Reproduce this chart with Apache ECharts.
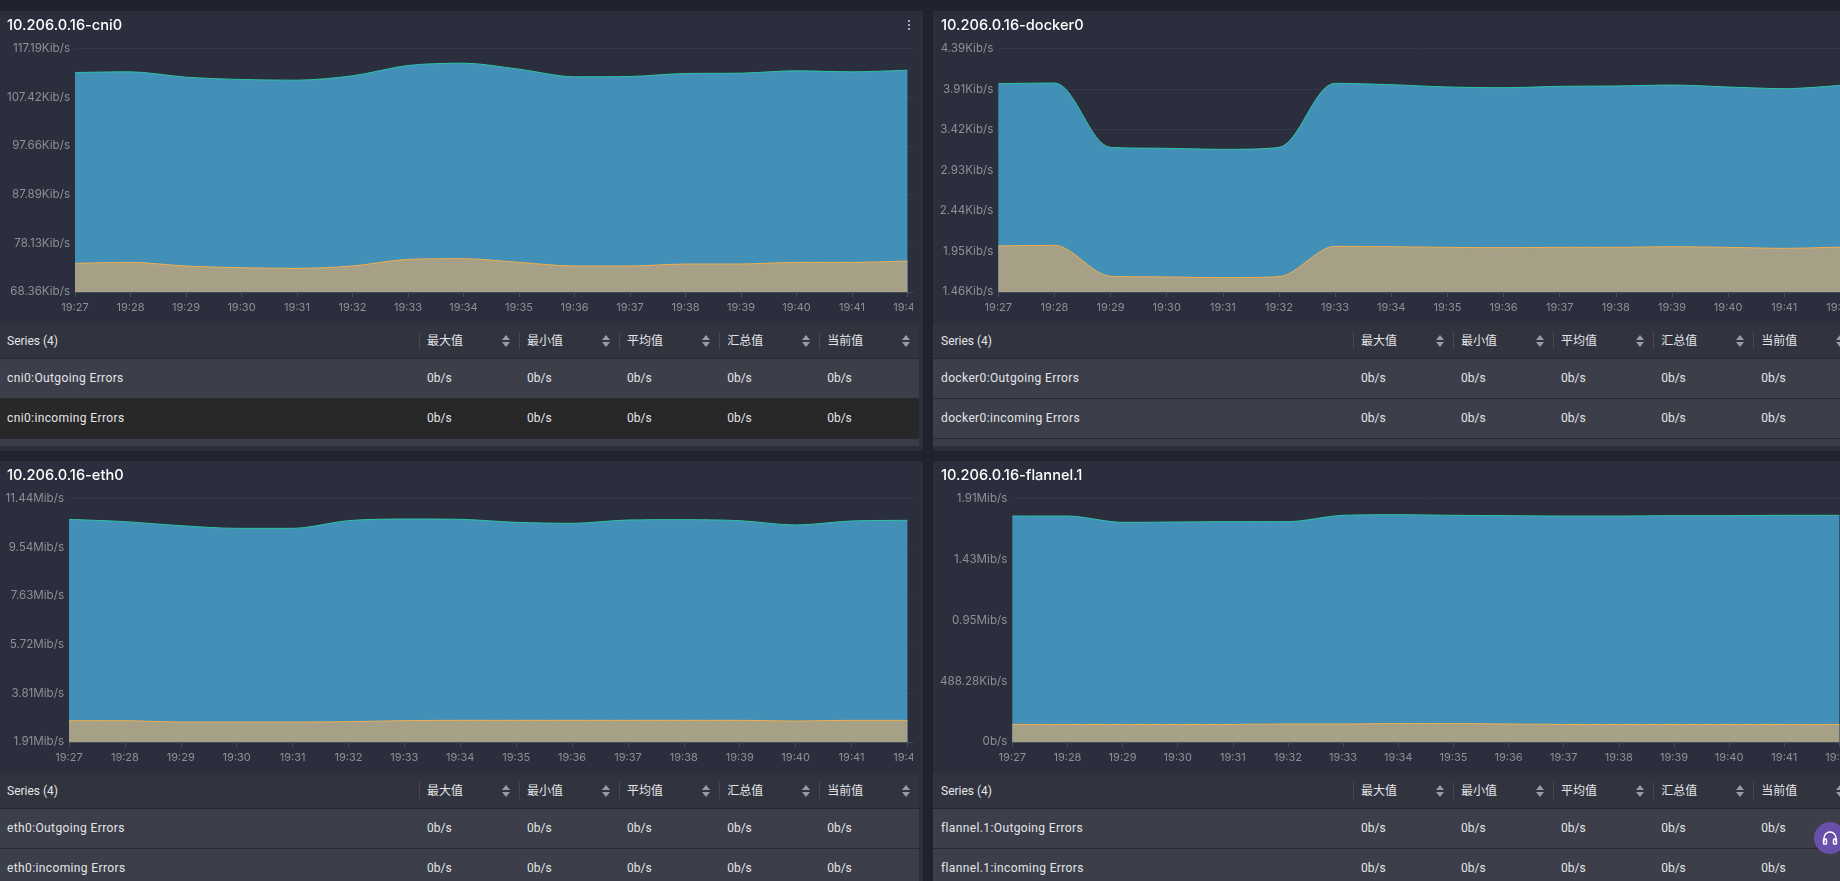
<!DOCTYPE html>
<html><head><meta charset="utf-8">
<script src="https://cdn.jsdelivr.net/npm/echarts@6/dist/echarts.min.js"></script>
<style>
html,body{margin:0;padding:0;width:1840px;height:881px;overflow:hidden;background:#20222e;font-family:Roboto,"Noto Sans CJK SC",sans-serif;}
.panel{position:absolute;width:923px;height:440px;background:#2b2e3d;overflow:hidden}
.chart{position:absolute;left:0;top:0;width:913px;height:311px}
.head,.row{position:absolute;left:0;width:919px;color:#e4e5e8;font-size:12px;box-sizing:border-box}
.head{top:312px;height:36px;background:#31343f;line-height:36px;border-bottom:1px solid #26272c}
.row{height:40px;line-height:39px;background:#3c3f4a;border-bottom:1px solid #2a2b2e}
.row.hover{background:#282828}
.cell{position:absolute;top:0;white-space:nowrap}
.name{letter-spacing:.38px}
.sep{position:absolute;top:9px;height:17px;width:1px;background:#454853}
.sort{position:absolute;top:12px;width:0;height:0}
.sort i{position:absolute;left:-4px;border-left:4px solid transparent;border-right:4px solid transparent}
.sort i.u{top:0;border-bottom:5px solid #9a9ca3}
.sort i.d{top:7px;border-top:5px solid #9a9ca3}
.strip{position:absolute;left:0;top:428px;width:919px;height:7px;background:#3a3d49}
.kebab{position:absolute;left:908px;top:9px;width:2px;height:2px;background:#a8aab0;box-shadow:0 4px 0 #a8aab0,0 8px 0 #a8aab0}
#help{position:absolute;left:1814px;top:822px;width:32px;height:32px;border-radius:50%;background:#6a4fa9}
</style></head><body>
<div id="help"><svg width="32" height="32" viewBox="0 0 32 32" fill="none" stroke="#fff" stroke-width="1.4"><path d="M10 20v-4a6 6 0 0 1 12 0v4"/><rect x="9.5" y="17" width="3" height="5" rx="0.8"/><rect x="19.5" y="17" width="3" height="5" rx="0.8"/></svg></div>
<script>
const minuteLabels = ["19:27","19:28","19:29","19:30","19:31","19:32","19:33","19:34","19:35","19:36","19:37","19:38","19:39","19:40","19:41","19:42"];

const cni0Title = "10.206.0.16-cni0";
const cni0Ticks = ["68.36Kib/s","78.13Kib/s","87.89Kib/s","97.66Kib/s","107.42Kib/s","117.19Kib/s"];
const cni0Out = [115075,115212,114118,113639,113502,114391,116512,116990,115759,114186,114255,114870,114938,115417,115212,115554];
const cni0In = [75882,76087,75335,74993,74856,75335,76703,76840,76087,75335,75335,75745,75745,76087,76087,76361];

const dockerTitle = "10.206.0.16-docker0";
const dockerTicks = ["1.46Kib/s","1.95Kib/s","2.44Kib/s","2.93Kib/s","3.42Kib/s","3.91Kib/s","4.39Kib/s"];
const dockerOut = [4067,4075,3282,3270,3258,3282,4071,4054,4026,4017,4034,4038,4050,4026,4005,4046];
const dockerIn = [2067,2075,1693,1685,1677,1689,2063,2058,2050,2046,2050,2050,2058,2050,2038,2054];

const eth0Title = "10.206.0.16-eth0";
const eth0Ticks = ["1.91Mib/s","3.81Mib/s","5.72Mib/s","7.63Mib/s","9.54Mib/s","11.44Mib/s"];
const eth0Out = [11144000,11049000,10884000,10775000,10775000,11090000,11158000,11144000,11021000,10980000,11117000,11131000,11090000,10912000,11076000,11103000];
const eth0In = [2876000,2876000,2821000,2821000,2821000,2835000,2876000,2890000,2890000,2890000,2890000,2890000,2890000,2862000,2890000,2890000];

const flannelTitle = "10.206.0.16-flannel.1";
const flannelTicks = ["0b/s","488.28Kib/s","0.95Mib/s","1.43Mib/s","1.91Mib/s"];
const flannelOut = [1856000,1856000,1804000,1807000,1810000,1810000,1862000,1867000,1862000,1859000,1856000,1856000,1859000,1859000,1862000,1862000];
const flannelIn = [145000,145000,145000,145000,145000,148000,148000,151000,151000,148000,145000,145000,145000,145000,145000,145000];

const headers = ["最大值","最小值","平均值","汇总值","当前值"];
const cellValue = "0b/s";

const panels = [
 {title:cni0Title, name:"cni0", ticks:cni0Ticks, out:cni0Out, inc:cni0In, min:70000, step:10000, x:0, y:11, dx:0, left:75, extra:15.1, hover:true},
 {title:dockerTitle, name:"docker0", ticks:dockerTicks, out:dockerOut, inc:dockerIn, min:1500, step:500, x:933, y:11, dx:1, left:65.3, extra:15.1},
 {title:eth0Title, name:"eth0", ticks:eth0Ticks, out:eth0Out, inc:eth0In, min:2000000, step:2000000, x:0, y:461, dx:0, left:69, extra:15.1},
 {title:flannelTitle, name:"flannel.1", ticks:flannelTicks, out:flannelOut, inc:flannelIn, min:0, step:500000, x:933, y:461, dx:1, left:79.3, extra:15.12},
];
const colX = [418.5,518.5,618.5,718.7,818.7];
const idx = minuteLabels.map((_,i)=>i);

panels.forEach(p=>{
  const d = document.createElement('div'); d.className='panel';
  d.style.left=p.x+'px'; d.style.top=p.y+'px';
  let html = '<div class="chart"></div>';
  html += `<div class="head"><span class="cell" style="left:${7+p.dx}px">Series (4)</span>`;
  headers.forEach((h,i)=>{
    const cx = colX[i]+p.dx;
    html += `<span class="sep" style="left:${cx}px"></span><span class="cell" style="left:${cx+8.5}px">${h}</span><span class="sort" style="left:${cx+87}px"><i class="u"></i><i class="d"></i></span>`;
  });
  html += '</div>';
  ["Outgoing","incoming"].forEach((n,r)=>{
    html += `<div class="row${(p.hover&&r==1)?' hover':''}" style="top:${348+40*r}px"><span class="cell name" style="left:${7+p.dx}px">${p.name}:${n} Errors</span>`;
    headers.forEach((h,i)=>{ html += `<span class="cell" style="left:${colX[i]+p.dx+8.5}px">${cellValue}</span>`; });
    html += '</div>';
  });
  html += '<div class="strip"></div>';
  if(p.hover) html += '<div class="kebab"></div>';
  d.innerHTML = html;
  document.body.insertBefore(d, document.getElementById('help'));

  const chart = echarts.init(d.querySelector('.chart'));
  const mk = (vals,line,fill,nm)=>({
    type:'line', name:nm, data:idx.map(i=>[i,vals[i]]), smooth:0.3, showSymbol:false,
    lineStyle:{color:line,width:1}, areaStyle:{color:fill,opacity:1,origin:'start'}, itemStyle:{color:line}, animation:false
  });
  chart.setOption({
    animation:false,
    title:{text:p.title,left:7+p.dx,top:7,padding:0,textStyle:{color:'#fff',fontSize:14.6,fontWeight:500,fontFamily:'Inter'}},
    grid:{left:p.left,right:0,top:37.5,bottom:30,outerBoundsMode:'none'},
    xAxis:{type:'value',min:0,max:p.extra,interval:1,
      axisLine:{show:true,lineStyle:{color:'#494c5a'}},
      axisTick:{show:true,length:5,lineStyle:{color:'#494c5a'},customValues:idx},
      splitLine:{show:false},
      axisLabel:{color:'#8e9096',fontSize:11,fontFamily:'Inter',margin:10,customValues:idx,hideOverlap:false,formatter:v=>minuteLabels[v]}},
    yAxis:{type:'value',min:p.min,max:p.min+p.step*(p.ticks.length-1),interval:p.step,
      axisLine:{show:false},axisTick:{show:false},
      splitLine:{show:true,lineStyle:{color:'#343747',width:1}},
      axisLabel:{color:'#8e9096',fontSize:11.6,fontFamily:'Inter',margin:5,padding:[4,0,0,0],formatter:v=>p.ticks[Math.round((v-p.min)/p.step)]}},
    series:[mk(p.out,'#2fc4a6','#428fb8',p.name+':Outgoing'),mk(p.inc,'#f2ae4f','#a5a086',p.name+':Incoming')]
  });
});
</script>
</body></html>
